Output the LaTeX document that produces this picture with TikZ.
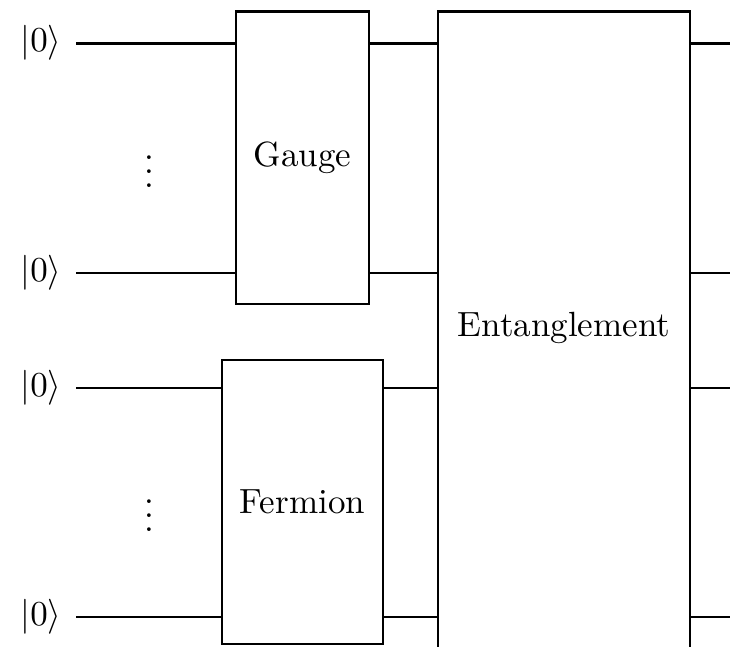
\documentclass[tikz,border=0pt]{standalone}
\usetikzlibrary{calc}
\begin{document}
\begin{tikzpicture}[x=0.2857pt,y=-0.2857pt,
  wire/.style={line width=0.85pt},
  gatebox/.style={draw,line width=0.85pt,fill=white,inner sep=0pt},
  ket/.style={inner sep=4pt}]
\useasboundingbox (0,0) rectangle (730,646);
\clip (0,0) rectangle (730,646);

% input kets
\node[ket] (q1) at (41,43)  {$|0\rangle$};
\node[ket] (q2) at (41,273) {$|0\rangle$};
\node[ket] (q3) at (41,388) {$|0\rangle$};
\node[ket] (q4) at (41,617) {$|0\rangle$};

% vertical ellipses between the register ends
\node (d1) at (149,161) {$\vdots$};
\node (d2) at (149,505) {$\vdots$};

% gates
\node[gatebox,minimum width=133*0.2857pt,minimum height=293*0.2857pt] (gauge) at (302.5,157.5) {Gauge};
\node[gatebox,minimum width=161*0.2857pt,minimum height=284*0.2857pt] (ferm) at (302.5,502) {Fermion};
\node[gatebox,minimum width=252*0.2857pt,minimum height=651*0.2857pt] (ent) at (564,336.5) {};
\node (entlabel) at (564,328) {Entanglement};

% outgoing wire ends
\coordinate (o1) at (740,43);
\coordinate (o2) at (740,273);
\coordinate (o3) at (740,388);
\coordinate (o4) at (740,617);

% wires
\draw[wire] (q1.east) -- (q1.east -| gauge.west);
\draw[wire] (q2.east) -- (q2.east -| gauge.west);
\draw[wire] (q3.east) -- (q3.east -| ferm.west);
\draw[wire] (q4.east) -- (q4.east -| ferm.west);
\draw[wire] (q1 -| gauge.east) -- (q1 -| ent.west);
\draw[wire] (q2 -| gauge.east) -- (q2 -| ent.west);
\draw[wire] (q3 -| ferm.east) -- (q3 -| ent.west);
\draw[wire] (q4 -| ferm.east) -- (q4 -| ent.west);
\draw[wire] (o1 -| ent.east) -- (o1);
\draw[wire] (o2 -| ent.east) -- (o2);
\draw[wire] (o3 -| ent.east) -- (o3);
\draw[wire] (o4 -| ent.east) -- (o4);
\end{tikzpicture}
\end{document}
